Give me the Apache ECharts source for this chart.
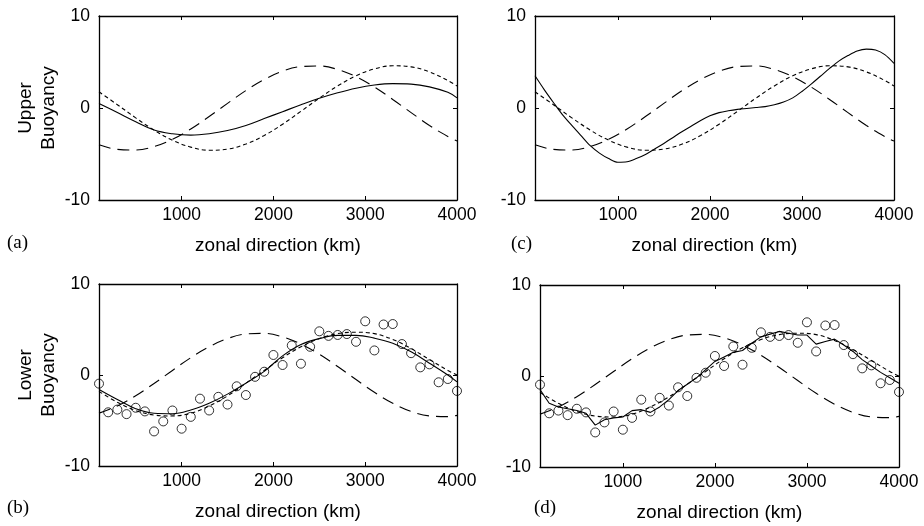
<!DOCTYPE html>
<html>
<head>
<meta charset="utf-8">
<script src="https://cdn.jsdelivr.net/npm/echarts@6/dist/echarts.min.js"></script>
<style>
  html, body { margin: 0; padding: 0; background: #fff; }
  #chart { width: 924px; height: 526px; }
</style>
</head>
<body>
<div id="chart"></div>
<script>
// zonal positions (km)
const kmLine = [100, 300, 500, 700, 900, 1100, 1300, 1500, 1700, 1900, 2100,
                2300, 2500, 2700, 2900, 3100, 3300, 3500, 3700, 3900, 4000];
const kmObs = [100, 200, 300, 400, 500, 600, 700, 800, 900, 1000,
               1100, 1200, 1300, 1400, 1500, 1600, 1700, 1800, 1900, 2000,
               2100, 2200, 2300, 2400, 2500, 2600, 2700, 2800, 2900, 3000,
               3100, 3200, 3300, 3400, 3500, 3600, 3700, 3800, 3900, 4000];
const xTickLabels = [1000, 2000, 3000, 4000];

// upper buoyancy (panels a, c)
const upperDashed = [-4.0, -4.5, -4.57, -4.19, -3.4, -2.28, -0.93, 0.5, 1.9, 3.1, 4.0,
                     4.5, 4.57, 4.19, 3.4, 2.28, 0.93, -0.5, -1.9, -3.1, -3.6];
const upperDotted = [1.76, 0.36, -1.07, -2.4, -3.5, -4.25, -4.59, -4.47, -3.92, -2.99, -1.76,
                     -0.36, 1.07, 2.4, 3.5, 4.25, 4.59, 4.47, 3.92, 2.99, 2.4];
const upperSolidA = [0.5, -0.5, -1.5, -2.4, -2.8, -2.95, -2.8, -2.45, -1.9, -1.15, -0.4,
                     0.35, 1.05, 1.65, 2.15, 2.5, 2.65, 2.6, 2.3, 1.7, 1.1];
// panel c solid, every 100 km
const upperSolidC = [3.5, 2.0, 0.6, -0.75, -1.9, -3.0, -4.1, -4.9, -5.5, -5.9,
                     -5.85, -5.5, -5.05, -4.45, -3.85, -3.2, -2.55, -1.95, -1.35, -0.85,
                     -0.5, -0.3, -0.15, -0.05, 0.05, 0.15, 0.35, 0.65, 1.1, 1.8,
                     2.6, 3.45, 4.3, 5.1, 5.7, 6.2, 6.4, 6.3, 5.8, 4.85];

// lower buoyancy (panels b, d)
const lowerDashed = [-4.19, -3.4, -2.28, -0.93, 0.5, 1.9, 3.1, 4.0, 4.5, 4.57, 4.19,
                     3.4, 2.28, 0.93, -0.5, -1.9, -3.1, -4.0, -4.5, -4.57, -4.44];
const lowerDotted = [-1.8, -3.0, -3.9, -4.4, -4.5, -4.2, -3.4, -2.3, -0.9, 0.5, 1.9,
                     3.1, 4.0, 4.55, 4.7, 4.55, 3.9, 2.9, 1.7, 0.5, 0.0];
const lowerSolidB = [-1.6, -2.7, -3.7, -4.2, -4.25, -3.85, -3.1, -2.1, -0.9, 0.4, 2.1,
                     3.35, 4.0, 4.35, 4.35, 4.05, 3.5, 2.55, 1.3, 0.0, -0.75];
const lowerSolidD = [-1.5, -3.0, -3.4, -3.6, -3.8, -4.1, -5.4, -4.8, -4.6, -4.5,
                     -3.8, -3.7, -4.0, -3.4, -2.6, -1.6, -0.9, -0.2, 0.7, 1.6,
                     2.1, 2.6, 2.8, 3.6, 4.3, 4.6, 4.9, 4.7, 4.5, 4.5,
                     3.5, 3.8, 4.05, 3.4, 2.7, 1.8, 1.1, 0.4, -0.2, -0.8];
const observed = [-0.95, -4.1, -3.8, -4.3, -3.6, -4.0, -6.2, -5.1, -3.9, -5.9,
                  -4.6, -2.6, -3.9, -2.4, -3.25, -1.24, -2.2, -0.2, 0.36, 2.2,
                  1.1, 3.25, 1.24, 3.1, 4.8, 4.3, 4.4, 4.5, 3.65, 5.9,
                  2.7, 5.55, 5.6, 3.4, 2.4, 0.84, 1.17, -0.8, -0.44, -1.75];

const zip = (xs, ys) => xs.map((x, i) => [x, ys[i]]);

const sans = 'Liberation Sans, Arial, Helvetica, sans-serif';
const black = '#000';

const grids = [
    {left: 99, top: 16, width: 358, height: 184},   // a
    {left: 535, top: 16, width: 359, height: 184},  // c
    {left: 99, top: 284, width: 358, height: 182},  // b
    {left: 540, top: 285, width: 359, height: 182}  // d
];
const yNames = ['Upper\nBuoyancy', '', 'Lower\nBuoyancy', ''];

let xAxes = [];
let yAxes = [];
grids.forEach((g, i) => {
    xAxes.push({
        gridIndex: i, type: 'value', position: 'bottom', min: 100, max: 4000,
        name: 'zonal direction (km)', nameLocation: 'middle', nameGap: 36,
        nameTextStyle: {fontFamily: sans, fontSize: 19, color: black},
        axisLine: {show: true, onZero: false, lineStyle: {color: black, width: 1.3}},
        axisTick: {show: true, inside: true, length: 4, customValues: [1000, 2000, 3000], lineStyle: {color: black}},
        axisLabel: {show: true, customValues: xTickLabels, margin: 6, fontFamily: sans, fontSize: 17.5, color: black,
                    formatter: (v) => String(v)},
        splitLine: {show: false}
    });
    xAxes.push({
        gridIndex: i, type: 'value', position: 'top', min: 100, max: 4000,
        axisLine: {show: true, onZero: false, lineStyle: {color: black, width: 1.3}},
        axisTick: {show: true, inside: true, length: 4, customValues: [1000, 2000, 3000], lineStyle: {color: black}},
        axisLabel: {show: false},
        splitLine: {show: false}
    });
    yAxes.push({
        gridIndex: i, type: 'value', position: 'left', min: -10, max: 10, interval: 10,
        name: yNames[i], nameLocation: 'middle', nameGap: 39,
        nameTextStyle: {fontFamily: sans, fontSize: 19, color: black, lineHeight: 23},
        axisLine: {show: true, onZero: false, lineStyle: {color: black, width: 1.3}},
        axisTick: {show: true, inside: true, length: 4, lineStyle: {color: black}},
        axisLabel: {show: true, margin: 9, fontFamily: sans, fontSize: 17.5, color: black},
        splitLine: {show: false}
    });
    yAxes.push({
        gridIndex: i, type: 'value', position: 'right', min: -10, max: 10, interval: 10,
        axisLine: {show: true, onZero: false, lineStyle: {color: black, width: 1.3}},
        axisTick: {show: true, inside: true, length: 4, lineStyle: {color: black}},
        axisLabel: {show: false},
        splitLine: {show: false}
    });
});

function curve (gi, xs, ys, dash, smooth) {
    return {
        type: 'line', xAxisIndex: gi * 2, yAxisIndex: gi * 2,
        data: zip(xs, ys), showSymbol: false, smooth: smooth,
        lineStyle: {color: black, width: 1.1, type: dash}, silent: true
    };
}
function dots (gi) {
    return {
        type: 'scatter', xAxisIndex: gi * 2, yAxisIndex: gi * 2,
        data: zip(kmObs, observed), symbol: 'circle', symbolSize: 9,
        itemStyle: {color: 'rgba(0,0,0,0)', borderColor: black, borderWidth: 1}
    };
}

const longDash = [12, 7];
const shortDash = [4, 3];

const series = [
    curve(0, kmLine, upperSolidA, 'solid', 0.4),
    curve(0, kmLine, upperDashed, longDash, 0.4),
    curve(0, kmLine, upperDotted, shortDash, 0.4),
    curve(1, kmObs, upperSolidC, 'solid', 0.3),
    curve(1, kmLine, upperDashed, longDash, 0.4),
    curve(1, kmLine, upperDotted, shortDash, 0.4),
    curve(2, kmLine, lowerDashed, longDash, 0.4),
    curve(2, kmLine, lowerDotted, shortDash, 0.4),
    curve(2, kmLine, lowerSolidB, 'solid', 0.4),
    dots(2),
    curve(3, kmLine, lowerDashed, longDash, 0.4),
    curve(3, kmLine, lowerDotted, shortDash, 0.4),
    curve(3, kmObs, lowerSolidD, 'solid', false),
    dots(3)
];

const panelTitle = (text, left, top) => ({
    text: text, left: left, top: top, padding: 0,
    textStyle: {fontFamily: 'Liberation Serif, Times New Roman, serif', fontWeight: 'normal', fontSize: 19, color: black}
});

const chart = echarts.init(document.getElementById('chart'), null, {renderer: 'canvas'});
chart.setOption({
    animation: false,
    backgroundColor: '#fff',
    title: [
        panelTitle('(a)', 7, 234),
        panelTitle('(c)', 511, 235),
        panelTitle('(b)', 7, 499),
        panelTitle('(d)', 534, 499)
    ],
    grid: grids,
    xAxis: xAxes,
    yAxis: yAxes,
    series: series
});
</script>
</body>
</html>
